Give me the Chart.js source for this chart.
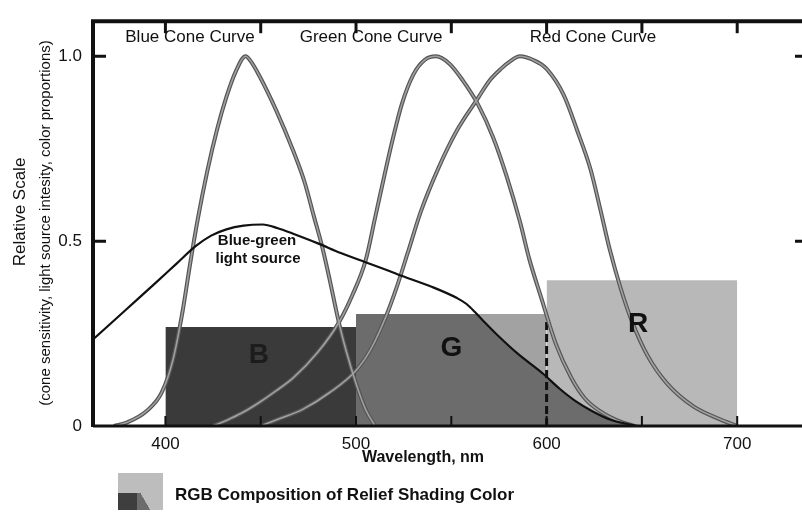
<!DOCTYPE html>
<html>
<head>
<meta charset="utf-8">
<script src="https://cdn.jsdelivr.net/npm/chart.js@4.4.1/dist/chart.umd.min.js"></script>
<style>
  html, body { margin: 0; padding: 0; background: #fff; }
  #wrap { position: relative; width: 802px; height: 514px; overflow: hidden; }
  #legend { position: absolute; left: 118px; top: 473px; height: 37px; font: bold 17px "Liberation Sans", Arial, sans-serif; color: #111; }
  #legend .sw { position: absolute; left: 0; top: 0; width: 45px; height: 37px; background: #bdbdbd; }
  #legend .sw i { position: absolute; bottom: 0; height: 17px; }
  #legend .sw .d { left: 0; width: 19px; background: #3e3e3e; }
  #legend .sw .m { left: 19px; width: 14px; background: linear-gradient(60deg, #6c6c6c 55%, #bdbdbd 56%); }
  #legend .t { position: absolute; left: 57px; top: 12px; white-space: nowrap; }
</style>
</head>
<body>
<div id="wrap">
  <canvas id="chart" width="802" height="514"></canvas>
  <div id="legend"><span class="sw"><i class="d"></i><i class="m"></i></span><span class="t">RGB Composition of Relief Shading Color</span></div>
</div>
<script>
// wavelengths (nm) and relative values
const blueNm  = [373, 380, 390, 398, 404, 409, 413, 417, 422, 427, 432, 437, 442, 445, 449, 458, 467, 473, 478, 482, 486, 491, 495, 500, 505, 510];
const blueVal = [0, 0.01, 0.04, 0.09, 0.18, 0.31, 0.44, 0.56, 0.69, 0.80, 0.89, 0.96, 1.0, 0.985, 0.95, 0.855, 0.745, 0.66, 0.565, 0.49, 0.40, 0.28, 0.20, 0.115, 0.045, 0];

const greenNm  = [425, 432, 440, 449, 458, 467, 480, 491, 498, 505, 510, 515, 519, 524, 530, 536, 542, 549, 556, 564, 572, 579, 586, 591, 597, 605, 613, 620, 628, 637, 646];
const greenVal = [0, 0.015, 0.035, 0.063, 0.095, 0.13, 0.20, 0.28, 0.353, 0.447, 0.563, 0.68, 0.77, 0.87, 0.95, 0.99, 1.0, 0.98, 0.935, 0.87, 0.78, 0.676, 0.553, 0.45, 0.35, 0.22, 0.13, 0.075, 0.04, 0.015, 0];

const redNm  = [450, 460, 472, 486, 500, 508, 516, 521, 527, 534, 543, 553, 564, 570, 576, 581, 586, 593, 600, 609, 616, 623, 628, 633, 639, 645, 653, 663, 677, 691, 700];
const redVal = [0, 0.02, 0.045, 0.09, 0.15, 0.21, 0.30, 0.37, 0.466, 0.58, 0.695, 0.80, 0.887, 0.934, 0.966, 0.987, 1.0, 0.99, 0.966, 0.895, 0.80, 0.695, 0.59, 0.48, 0.37, 0.28, 0.19, 0.116, 0.053, 0.018, 0];

const lightNm  = [362, 380, 395, 406, 416, 424, 432, 441, 451, 459, 467, 480, 492, 505, 515, 522, 540, 553, 558, 563, 568, 574, 585, 598, 607, 615, 624, 634, 642, 648];
const lightVal = [0.234, 0.318, 0.388, 0.44, 0.487, 0.515, 0.532, 0.542, 0.545, 0.535, 0.52, 0.494, 0.468, 0.443, 0.424, 0.41, 0.376, 0.346, 0.33, 0.305, 0.278, 0.247, 0.195, 0.142, 0.10, 0.068, 0.04, 0.016, 0.006, 0];

const barLetters = ['B', 'G', 'R'];
const barStart   = [400, 500, 600];
const barEnd     = [500, 600, 700];
const barHeight  = [0.268, 0.303, 0.394];

const dashNm  = [600, 600];
const dashVal = [0, 0.287];

const xTicks = [400, 500, 600, 700];
const xMinor = [400, 450, 500, 550, 600, 650, 700];
const yTicks = [0, 0.5, 1.0];

const FONT = '"Liberation Sans", Arial, sans-serif';
const SHADE_AFTER = 8;   // index of the B block; G and R are drawn before it

function toPts(xs, ys) {
    return xs.map(function(x, i) { return {x: x, y: ys[i]}; });
}

function curve(xs, ys, color, width) {
    return {
        data: toPts(xs, ys),
        borderColor: color,
        borderWidth: width,
        pointRadius: 0,
        fill: false,
        cubicInterpolationMode: 'monotone'
    };
}

function block(i, color) {
    return {
        data: [{x: barStart[i], y: barHeight[i]}, {x: barEnd[i], y: barHeight[i]}],
        borderWidth: 0,
        borderColor: 'rgba(0,0,0,0)',
        backgroundColor: color,
        fill: 'origin',
        pointRadius: 0
    };
}

// darker part of the G and R blocks that lies under the light source curve
const shade = {
    id: 'shade',
    afterDatasetDraw: function(chart, args) {
        if (args.index !== SHADE_AFTER) return;
        var ctx = chart.ctx, x = chart.scales.x, y = chart.scales.y;
        var meta = chart.getDatasetMeta(0);
        var pts = meta.data;
        var y0 = y.getPixelForValue(0);
        ctx.save();
        ctx.beginPath();
        for (var i = 1; i < 3; i++) {
            var l = x.getPixelForValue(barStart[i]);
            var t = y.getPixelForValue(barHeight[i]);
            ctx.rect(l, t, x.getPixelForValue(barEnd[i]) - l, y0 - t);
        }
        ctx.clip();
        ctx.beginPath();
        meta.dataset.path(ctx);
        ctx.lineTo(pts[pts.length - 1].x, y0);
        ctx.lineTo(pts[0].x, y0);
        ctx.closePath();
        ctx.fillStyle = '#6c6c6c';
        ctx.fill();
        ctx.restore();
    }
};

// heavy frame and inward ticks
const frame = {
    id: 'frame',
    afterDatasetsDraw: function(chart) {
        var ctx = chart.ctx, a = chart.chartArea, x = chart.scales.x, y = chart.scales.y;
        ctx.save();
        ctx.strokeStyle = '#111';
        ctx.lineWidth = 4;
        ctx.beginPath();
        ctx.moveTo(a.left, a.top); ctx.lineTo(a.right, a.top);
        ctx.moveTo(a.left, a.top - 2); ctx.lineTo(a.left, a.bottom + 1);
        ctx.stroke();
        ctx.lineWidth = 3;
        ctx.beginPath();
        ctx.moveTo(a.left, a.bottom); ctx.lineTo(a.right, a.bottom);
        ctx.stroke();
        xMinor.forEach(function(v) {
            var px = x.getPixelForValue(v);
            ctx.lineWidth = 3;
            ctx.beginPath(); ctx.moveTo(px, a.top); ctx.lineTo(px, a.top + 12); ctx.stroke();
            ctx.lineWidth = 2;
            ctx.beginPath(); ctx.moveTo(px, a.bottom); ctx.lineTo(px, a.bottom - 10); ctx.stroke();
        });
        ctx.lineWidth = 3;
        yTicks.forEach(function(v) {
            if (v === 0) return;
            var py = y.getPixelForValue(v);
            ctx.beginPath();
            ctx.moveTo(a.left, py); ctx.lineTo(a.left + 13, py);
            ctx.moveTo(a.right - 7, py); ctx.lineTo(a.right, py);
            ctx.stroke();
        });
        ctx.restore();
    }
};

// text notes on and around the plot
const notes = {
    id: 'notes',
    afterDraw: function(chart) {
        var ctx = chart.ctx, x = chart.scales.x, y = chart.scales.y;
        ctx.save();
        ctx.textAlign = 'center';
        ctx.textBaseline = 'middle';
        ctx.fillStyle = '#111';
        ctx.font = '17px ' + FONT;
        ctx.fillText('Blue Cone Curve', 190, 37);
        ctx.fillText('Green Cone Curve', 371, 37);
        ctx.fillText('Red Cone Curve', 593, 37);
        ctx.font = 'bold 15px ' + FONT;
        ctx.fillText('Blue-green', 257, 241);
        ctx.fillText('light source', 258, 259);
        ctx.font = 'bold 28px ' + FONT;
        var letterY = [0.19, 0.21, 0.274];
        var letterX = [449, 550, 648];
        barLetters.forEach(function(s, i) {
            ctx.fillStyle = i === 0 ? '#1c1c1c' : '#111';
            ctx.fillText(s, x.getPixelForValue(letterX[i]), y.getPixelForValue(letterY[i]));
        });
        ctx.fillStyle = '#111';
        ctx.font = 'bold 16px ' + FONT;
        ctx.fillText('Wavelength, nm', 423, 458);
        ctx.translate(20, 212);
        ctx.rotate(-Math.PI / 2);
        ctx.font = '17px ' + FONT;
        ctx.fillText('Relative Scale', 0, 0);
        ctx.rotate(Math.PI / 2);
        ctx.translate(26, 11);
        ctx.rotate(-Math.PI / 2);
        ctx.font = '15px ' + FONT;
        ctx.fillText('(cone sensitivity, light source intesity, color proportions)', 0, 0);
        ctx.restore();
    }
};

new Chart(document.getElementById('chart'), {
    type: 'line',
    data: {
        datasets: [
            curve(lightNm, lightVal, '#111', 2.2),
            // cone curves: light core over a dark casing
            curve(blueNm, blueVal, '#a0a0a0', 1.6),
            curve(greenNm, greenVal, '#a0a0a0', 1.6),
            curve(redNm, redVal, '#a0a0a0', 1.6),
            curve(blueNm, blueVal, '#555', 4),
            curve(greenNm, greenVal, '#555', 4),
            curve(redNm, redVal, '#555', 4),
            {
                data: toPts(dashNm, dashVal),
                borderColor: '#111',
                borderWidth: 3,
                borderDash: [8, 4],
                pointRadius: 0,
                fill: false
            },
            block(0, '#3a3a3a'),
            block(1, '#a2a2a2'),
            block(2, '#b8b8b8')
        ]
    },
    options: {
        responsive: false,
        animation: false,
        devicePixelRatio: 1,
        layout: { padding: { top: 10, left: 0, right: 0, bottom: 0 } },
        plugins: {
            legend: { display: false },
            tooltip: { enabled: false }
        },
        scales: {
            x: {
                type: 'linear',
                min: 362,
                max: 734,
                grid: { display: false, drawTicks: false },
                border: { display: false },
                afterBuildTicks: function(scale) {
                    scale.ticks = xTicks.map(function(v) { return {value: v}; });
                },
                afterFit: function(scale) { scale.height = 88; },
                ticks: {
                    autoSkip: false,
                    maxRotation: 0,
                    padding: 8,
                    color: '#111',
                    font: { family: FONT, size: 17 }
                }
            },
            y: {
                min: 0,
                max: 1.095,
                grid: { display: false, drawTicks: false },
                border: { display: false },
                afterBuildTicks: function(scale) {
                    scale.ticks = yTicks.map(function(v) { return {value: v}; });
                },
                afterFit: function(scale) { scale.width = 93; },
                ticks: {
                    autoSkip: false,
                    padding: 11,
                    color: '#111',
                    font: { family: FONT, size: 17 },
                    callback: function(v) { return v === 0 ? '0' : v.toFixed(1); }
                }
            }
        }
    },
    plugins: [shade, frame, notes]
});
</script>
</body>
</html>
